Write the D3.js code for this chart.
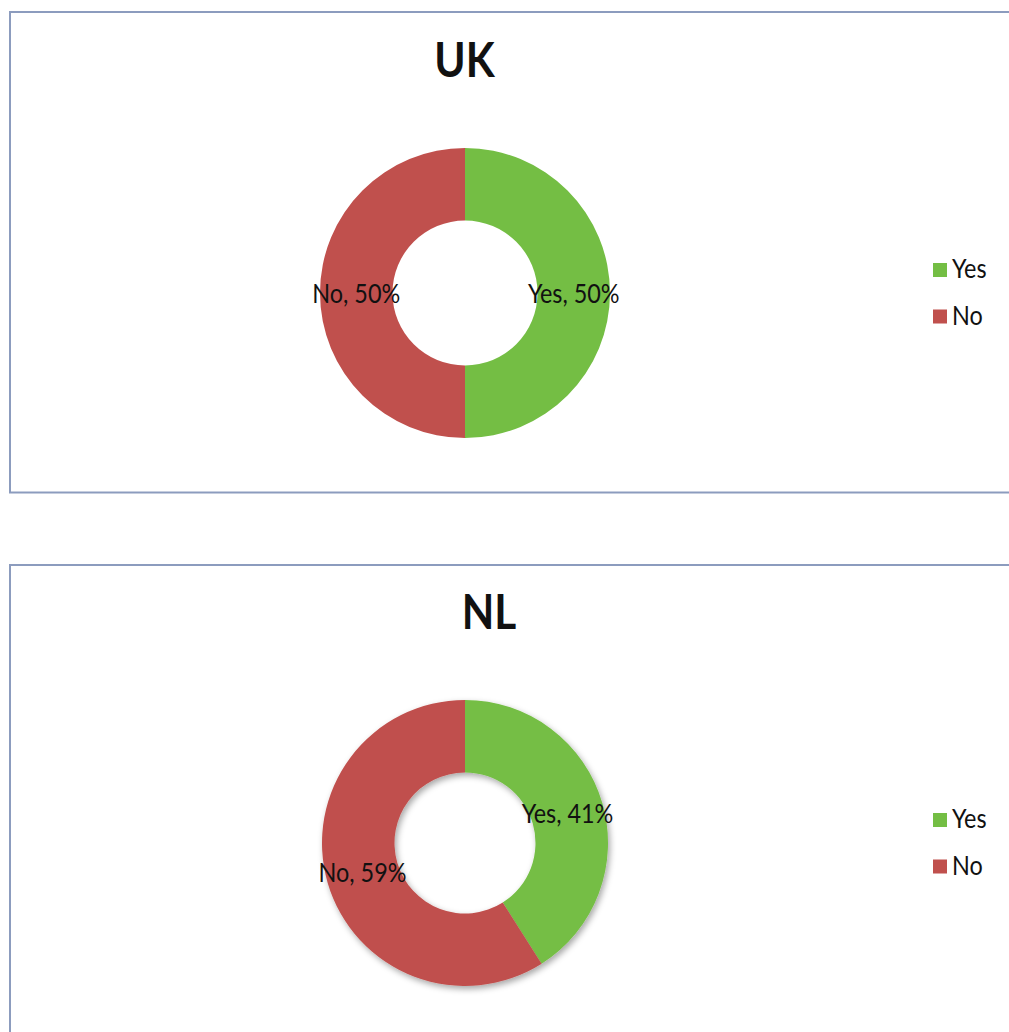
<!DOCTYPE html>
<html>
<head>
<meta charset="utf-8">
<script src="https://cdn.jsdelivr.net/npm/d3@7"></script>
<style>
  html, body { margin: 0; padding: 0; background: #fff; }
  svg { display: block; }
  text { font-family: Lato, "Open Sans", sans-serif; fill: #111; }
</style>
</head>
<body>
<svg id="chart" width="1009" height="1032"></svg>
<script>
// ---- data ----
const categories = ["Yes", "No"];
const chartTitles = ["UK", "NL"];
const ukValues = [50, 50];
const nlValues = [41, 59];
const seriesValues = [ukValues, nlValues];

// ---- layout / style ----
const colors = ["#74BE44", "#C0504D"];
const frameStroke = "#8C9CBE";
const squeeze = 0.9; // horizontal compression of text seen in the reference
const layouts = [
  { top: 12, cx: 465, cy: 293, r: 145, r0: 72.5, titleX: 464.5, titleY: 77, shadow: false },
  { top: 565, cx: 465, cy: 843, r: 143, r0: 70.5, titleX: 489, titleY: 629, shadow: true }
];

const svg = d3.select("#chart");
const defs = svg.append("defs");
const f = defs.append("filter").attr("id", "shadow")
  .attr("x", "-20%").attr("y", "-20%").attr("width", "140%").attr("height", "140%");
f.append("feDropShadow").attr("dx", 2).attr("dy", 3).attr("stdDeviation", 3)
  .attr("flood-color", "#000").attr("flood-opacity", 0.35);

function sText(g, x, y, str, size, weight, anchor) {
  return g.append("text")
    .attr("transform", `translate(${x},${y}) scale(${squeeze},1)`)
    .attr("font-size", size)
    .attr("font-weight", weight || "normal")
    .attr("text-anchor", anchor || "start")
    .text(str);
}

const color = d3.scaleOrdinal().domain(categories).range(colors);
const pie = d3.pie().sort(null).value(d => d.value);

layouts.forEach((L, i) => {
  const g = svg.append("g");
  // frame
  g.append("rect")
    .attr("x", 10).attr("y", L.top)
    .attr("width", 1100).attr("height", 480.5)
    .attr("fill", "none").attr("stroke", frameStroke).attr("stroke-width", 2);

  // title
  sText(g, L.titleX, L.titleY, chartTitles[i], 47, "bold", "middle");

  const data = categories.map((c, k) => ({ cat: c, value: seriesValues[i][k] }));
  const arcs = pie(data);
  const arc = d3.arc().innerRadius(L.r0).outerRadius(L.r);

  const pg = g.append("g").attr("transform", `translate(${L.cx},${L.cy})`);
  const slices = pg.append("g");
  if (L.shadow) slices.attr("filter", "url(#shadow)");
  slices.selectAll("path").data(arcs).enter().append("path")
    .attr("d", arc)
    .attr("fill", d => color(d.data.cat));

  arcs.forEach(d => {
    const [x, y] = arc.centroid(d);
    sText(pg, x, y + 9.5, `${d.data.cat}, ${d.data.value}%`, 26, "normal", "middle");
  });

  // legend
  const lg = g.append("g");
  categories.forEach((c, k) => {
    const sy = L.cy - 30 + k * 46.5;
    lg.append("rect").attr("x", 933).attr("y", sy).attr("width", 14).attr("height", 14)
      .attr("fill", color(c));
    sText(lg, 952, sy + 15, c, 26, "normal", "start");
  });
});
</script>
</body>
</html>
